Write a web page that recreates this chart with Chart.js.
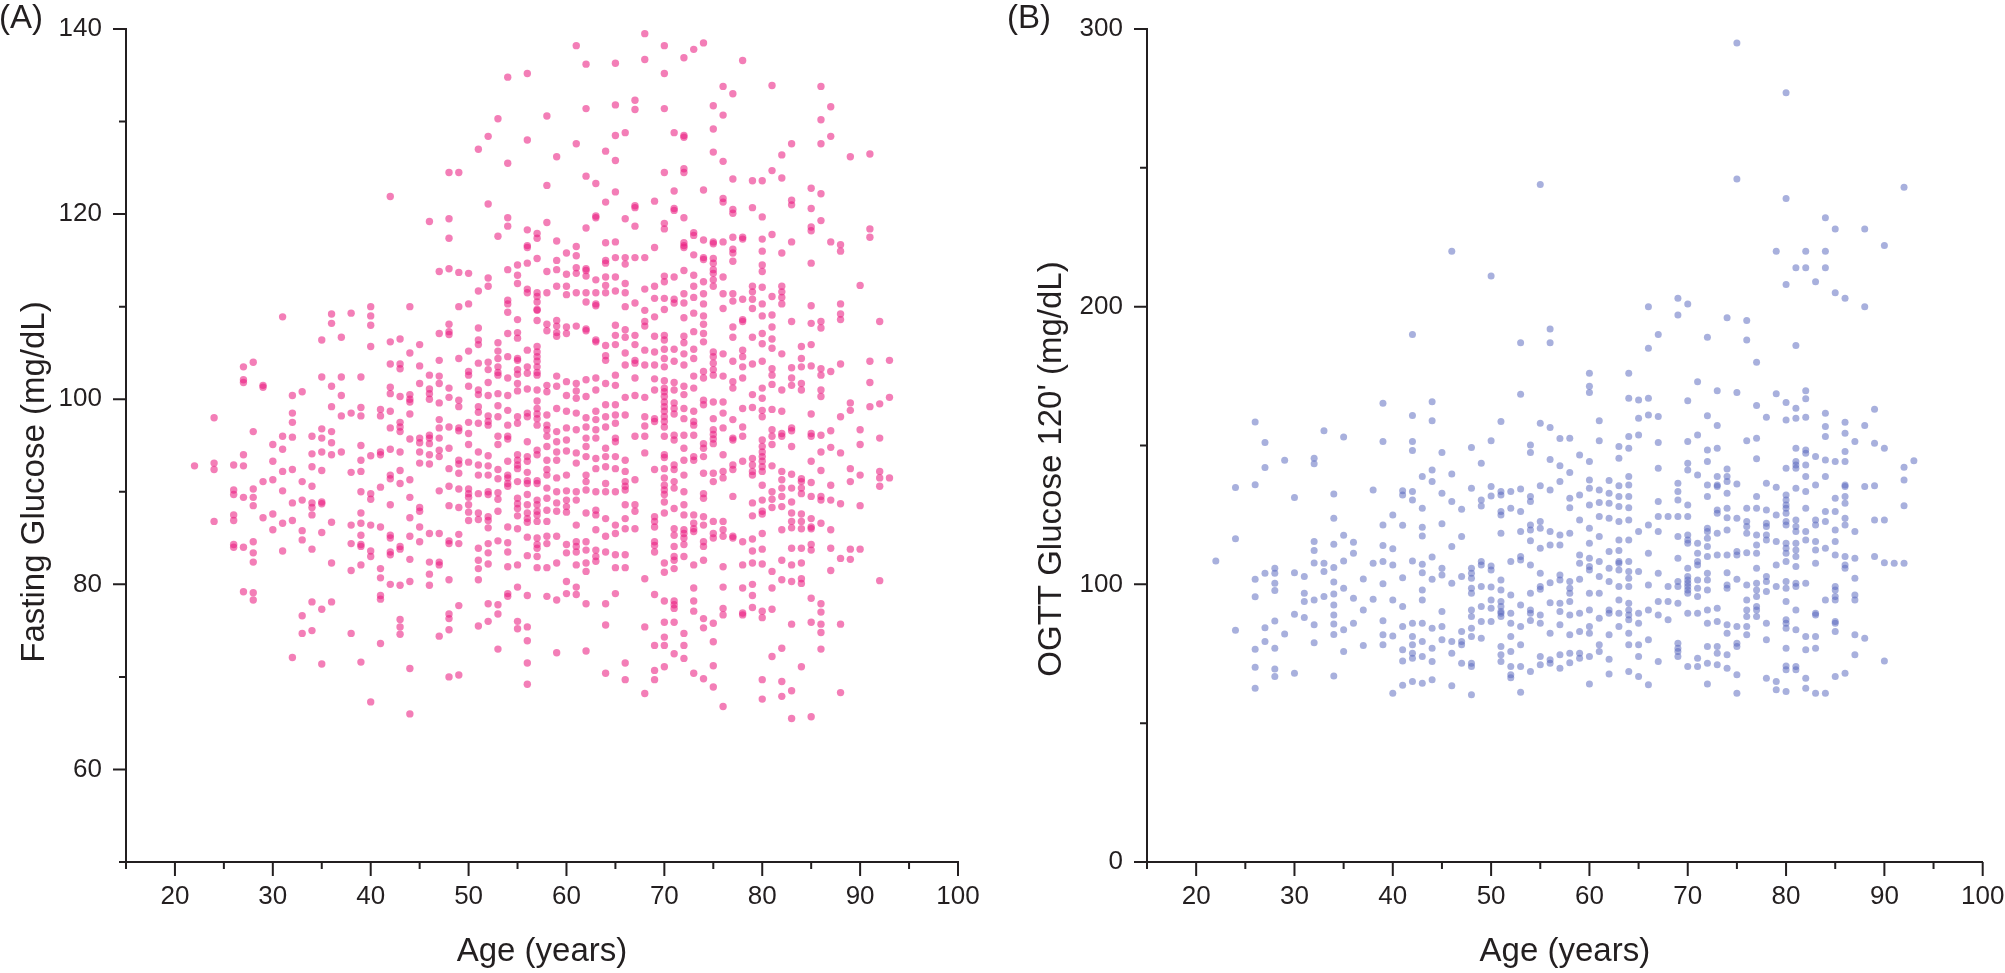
<!DOCTYPE html>
<html><head><meta charset="utf-8">
<script src="https://cdn.jsdelivr.net/npm/chart.js@4.4.0/dist/chart.umd.min.js"></script>
<style>
html,body{margin:0;padding:0;background:#fff;width:2005px;height:973px;overflow:hidden;}
canvas{position:absolute;top:0;}
#ca{left:0;} #cb{left:1000px;}
.panel{position:absolute;top:0;font-family:"Liberation Sans",Arial,sans-serif;font-size:33px;line-height:33px;color:#231f20;}
</style></head><body>
<canvas id="ca" width="1000" height="973"></canvas>
<canvas id="cb" width="1005" height="973"></canvas>
<div class="panel" style="left:-1px">(A)</div>
<div class="panel" style="left:1007px">(B)</div>
<script>
// ---------- Tick labels ----------
const ageTicks = [20,30,40,50,60,70,80,90,100];
const ageMinor = [15,25,35,45,55,65,75,85,95];
const fastingTicks = [60,80,100,120,140];
const fastingMinor = [50,70,90,110,130];
const ogttTicks = [0,100,200,300];
const ogttMinor = [50,150,250];

// ---------- Panel A: Fasting glucose [age, mg/dL] ----------
const fasting20s = [
[22,92.8],[24,98.0],[24,93.1],[24,92.4],[24,86.8],
[26,92.9],[26,90.2],[26,89.7],[26,87.5],[26,86.9],[26,84.3],[26,84.0],
[27,103.5],[27,102.1],[27,101.8],[27,94.0],[27,92.8],[27,89.4],[27,84.0],[27,79.2],
[28,104.0],[28,96.5],[28,90.3],[28,89.4],[28,88.5],[28,84.6],[28,83.4],[28,82.4],[28,79.1],[28,78.3],
[29,101.5],[29,101.3],[29,91.1],[29,87.2]];
const fasting30s = [
[30,95.1],[30,93.3],[30,91.3],[30,87.6],[30,85.9],
[31,108.9],[31,96.0],[31,94.6],[31,92.2],[31,90.1],[31,86.6],[31,83.6],
[32,100.4],[32,98.5],[32,97.5],[32,95.9],[32,92.4],[32,88.8],[32,86.9],[32,72.1],
[33,100.8],[33,91.1],[33,89.1],[33,85.8],[33,84.8],[33,76.6],[33,74.7],
[34,96.0],[34,94.1],[34,92.7],[34,90.6],[34,88.8],[34,88.3],[34,87.5],[34,83.8],[34,78.1],[34,75.0],
[35,106.4],[35,102.4],[35,96.8],[35,95.8],[35,94.3],[35,92.3],[35,88.9],[35,88.7],[35,85.6],[35,77.3],[35,71.4],
[36,109.2],[36,108.2],[36,101.4],[36,99.2],[36,96.5],[36,95.3],[36,94.0],[36,86.7],[36,82.3],[36,78.1],
[37,106.7],[37,102.4],[37,100.4],[37,98.2],[37,94.3],
[38,109.3],[38,98.5],[38,92.1],[38,86.4],[38,84.4],[38,81.5],[38,74.7],
[39,102.4],[39,99.1],[39,98.2],[39,95.0],[39,93.4],[39,92.2],[39,90.0],[39,87.7],[39,86.6],[39,85.3],[39,84.3],[39,84.1],[39,82.1],[39,71.6]];
const fasting40s = [
[40,110.0],[40,109.0],[40,108.0],[40,105.7],[40,93.9],[40,89.8],[40,89.2],[40,86.4],[40,83.6],[40,83.0],[40,67.3],
[41,98.9],[41,98.2],[41,94.3],[41,94.0],[41,90.5],[41,86.2],[41,81.7],[41,80.7],[41,78.8],[41,78.4],[41,73.6],
[42,121.9],[42,106.2],[42,103.8],[42,101.3],[42,100.6],[42,98.7],[42,96.9],[42,94.6],[42,91.8],[42,91.4],[42,88.6],[42,85.3],[42,85.0],[42,83.5],[42,83.2],[42,80.0],
[43,106.5],[43,103.8],[43,103.3],[43,100.3],[43,97.5],[43,97.0],[43,96.5],[43,94.3],[43,92.3],[43,90.9],[43,84.1],[43,83.8],[43,79.9],[43,76.2],[43,75.4],[43,74.6],
[44,110.0],[44,105.0],[44,100.5],[44,100.0],[44,99.7],[44,98.4],[44,95.7],[44,91.3],[44,89.4],[44,87.2],[44,85.2],[44,82.7],[44,80.3],[44,70.9],[44,66.0],
[45,105.9],[45,103.6],[45,101.7],[45,95.8],[45,95.3],[45,94.3],[45,93.1],[45,88.3],[45,87.9],[45,86.2],[45,84.6],
[46,119.2],[46,102.6],[46,101.1],[46,100.6],[46,100.0],[46,96.1],[46,95.8],[46,95.2],[46,94.0],[46,93.0],[46,85.5],[46,82.4],[46,81.1],[46,79.9],
[47,113.8],[47,107.1],[47,104.2],[47,102.5],[47,101.7],[47,99.6],[47,97.8],[47,96.9],[47,95.8],[47,94.5],[47,93.8],[47,90.1],[47,85.5],[47,82.4],[47,82.1],[47,74.4],
[48,124.5],[48,119.5],[48,117.4],[48,114.1],[48,108.1],[48,107.3],[48,107.0],[48,101.2],[48,100.2],[48,97.0],[48,94.7],[48,92.5],[48,90.6],[48,88.5],[48,84.7],[48,84.4],[48,80.5],[48,76.8],[48,76.3],[48,75.1],[48,70.0],
[49,124.5],[49,113.7],[49,110.0],[49,104.4],[49,99.9],[49,99.2],[49,96.9],[49,96.6],[49,93.4],[49,93.0],[49,92.0],[49,90.3],[49,88.3],[49,85.4],[49,84.4],[49,77.7],[49,70.2]];
const fasting50s = [
[50,113.6],[50,110.3],[50,105.2],[50,103.0],[50,102.6],[50,101.4],[50,97.5],[50,96.3],[50,95.1],[50,93.2],[50,90.3],[50,89.8],[50,89.4],[50,88.6],[50,87.8],[50,86.9],
[51,127.0],[51,111.7],[51,107.7],[51,106.4],[51,105.9],[51,103.9],[51,101.0],[51,100.5],[51,99.2],[51,98.6],[51,97.4],[51,94.3],[51,92.9],[51,91.8],[51,89.8],[51,87.7],[51,87.0],[51,83.9],[51,82.6],[51,81.7],[51,80.5],[51,75.5],
[52,128.4],[52,121.1],[52,113.1],[52,112.2],[52,104.0],[52,103.2],[52,101.8],[52,100.4],[52,98.2],[52,97.6],[52,97.2],[52,93.9],[52,92.8],[52,91.8],[52,90.0],[52,89.7],[52,87.3],[52,86.9],[52,86.1],[52,84.4],[52,83.4],[52,82.2],[52,77.9],[52,76.0],
[53,130.3],[53,117.6],[53,106.1],[53,105.2],[53,104.4],[53,103.5],[53,102.9],[53,102.6],[53,100.6],[53,99.3],[53,98.1],[53,96.0],[53,95.1],[53,92.4],[53,91.4],[53,89.9],[53,89.2],[53,87.9],[53,84.7],[53,77.8],[53,76.8],[53,73.0],
[54,134.8],[54,125.5],[54,119.6],[54,118.7],[54,114.0],[54,110.7],[54,110.3],[54,109.4],[54,107.1],[54,104.6],[54,102.3],[54,100.4],[54,98.8],[54,97.2],[54,96.0],[54,95.7],[54,93.3],[54,91.8],[54,91.5],[54,90.9],[54,90.6],[54,86.2],[54,84.5],[54,83.5],[54,81.9],[54,79.0],[54,78.7],
[55,114.5],[55,113.4],[55,112.5],[55,108.6],[55,107.2],[55,106.6],[55,104.4],[55,104.2],[55,103.2],[55,102.7],[55,101.7],[55,100.9],[55,98.1],[55,97.4],[55,94.0],[55,93.4],[55,92.9],[55,92.5],[55,91.1],[55,89.3],[55,88.7],[55,88.2],[55,87.4],[55,86.0],[55,82.1],[55,79.7],[55,76.0],[55,75.2],
[56,135.2],[56,128.0],[56,118.3],[56,116.6],[56,116.4],[56,114.7],[56,111.9],[56,111.5],[56,105.3],[56,103.5],[56,102.8],[56,101.1],[56,98.5],[56,98.1],[56,95.4],[56,93.8],[56,93.3],[56,92.1],[56,91.2],[56,90.9],[56,89.7],[56,88.6],[56,87.7],[56,87.1],[56,86.7],[56,85.1],[56,83.1],[56,78.8],[56,75.4],[56,73.9],[56,71.5],[56,69.2],
[57,117.9],[57,117.4],[57,115.2],[57,111.5],[57,111.1],[57,110.5],[57,109.7],[57,109.6],[57,108.5],[57,105.7],[57,105.1],[57,104.6],[57,104.1],[57,103.5],[57,102.9],[57,102.6],[57,101.0],[57,99.8],[57,99.0],[57,98.4],[57,97.9],[57,97.2],[57,94.5],[57,94.0],[57,91.2],[57,90.9],[57,89.1],[57,88.6],[57,87.9],[57,87.5],[57,86.8],[57,85.0],[57,84.3],[57,83.9],[57,83.0],[57,81.8],
[58,130.6],[58,123.1],[58,119.1],[58,113.8],[58,111.5],[58,108.1],[58,107.4],[58,101.5],[58,100.8],[58,98.3],[58,97.2],[58,96.7],[58,96.0],[58,94.9],[58,93.4],[58,92.4],[58,91.8],[58,90.4],[58,89.3],[58,88.0],[58,86.8],[58,85.2],[58,84.4],[58,81.8],[58,78.7],
[59,126.2],[59,117.1],[59,115.0],[59,114.0],[59,112.2],[59,108.5],[59,107.9],[59,107.2],[59,106.8],[59,102.5],[59,101.4],[59,99.0],[59,96.5],[59,95.4],[59,94.3],[59,93.4],[59,91.5],[59,90.0],[59,88.8],[59,87.9],[59,85.2],[59,82.3],[59,78.3],[59,72.6]];
const fasting60s = [
[60,115.8],[60,113.5],[60,112.2],[60,111.3],[60,107.8],[60,107.1],[60,101.9],[60,100.4],[60,98.7],[60,96.9],[60,95.6],[60,94.4],[60,91.8],[60,90.1],[60,89.1],[60,88.4],[60,87.8],[60,84.3],[60,83.4],[60,80.3],[60,79.0],
[61,138.2],[61,127.6],[61,116.5],[61,115.5],[61,114.2],[61,113.6],[61,111.5],[61,107.9],[61,101.7],[61,100.9],[61,100.1],[61,98.5],[61,96.7],[61,94.2],[61,93.1],[61,90.0],[61,89.1],[61,86.4],[61,84.6],[61,84.1],[61,83.5],[61,82.1],[61,79.7],[61,78.9],
[62,136.2],[62,131.4],[62,124.1],[62,118.5],[62,114.1],[62,113.9],[62,113.3],[62,111.5],[62,110.5],[62,107.6],[62,107.4],[62,102.1],[62,100.3],[62,98.0],[62,97.0],[62,95.8],[62,94.9],[62,93.8],[62,91.8],[62,91.1],[62,90.2],[62,87.7],[62,84.6],[62,83.7],[62,82.3],[62,81.4],[62,77.9],[62,72.8],
[63,123.3],[63,119.8],[63,119.6],[63,112.9],[63,111.5],[63,110.3],[63,110.1],[63,106.4],[63,106.2],[63,102.3],[63,101.0],[63,98.7],[63,97.8],[63,96.7],[63,95.8],[63,93.6],[63,92.5],[63,90.0],[63,88.0],[63,87.5],[63,85.9],[63,83.7],[63,83.0],[63,82.5],
[64,126.8],[64,121.3],[64,116.9],[64,115.0],[64,114.7],[64,113.2],[64,112.3],[64,111.5],[64,105.8],[64,104.7],[64,104.2],[64,101.7],[64,99.4],[64,98.1],[64,97.0],[64,94.7],[64,93.8],[64,92.7],[64,90.9],[64,90.0],[64,87.1],[64,85.2],[64,83.5],[64,77.9],[64,75.6],[64,70.4],
[65,136.3],[65,131.8],[65,128.5],[65,125.8],[65,122.4],[65,117.0],[65,115.3],[65,113.2],[65,111.7],[65,108.0],[65,106.9],[65,105.9],[65,102.6],[65,101.5],[65,99.4],[65,98.3],[65,97.4],[65,95.8],[65,95.4],[65,93.8],[65,92.5],[65,90.0],[65,86.4],[65,85.5],[65,83.2],[65,81.8],[65,79.0],
[66,128.8],[66,119.5],[66,115.3],[66,114.6],[66,112.5],[66,111.5],[66,110.0],[66,107.5],[66,106.7],[66,105.0],[66,103.7],[66,100.2],[66,98.3],[66,93.4],[66,92.2],[66,91.1],[66,90.6],[66,90.2],[66,88.6],[66,87.1],[66,86.0],[66,83.2],[66,81.8],[66,71.5],[66,69.7],
[67,132.3],[67,131.3],[67,120.9],[67,120.7],[67,118.7],[67,115.3],[67,110.4],[67,106.9],[67,105.9],[67,104.2],[67,103.9],[67,102.3],[67,100.4],[67,96.0],[67,91.3],[67,88.6],[67,87.9],[67,86.0],
[68,139.5],[68,136.7],[68,115.3],[68,111.9],[68,109.6],[68,108.4],[68,107.9],[68,105.3],[68,103.7],[68,100.2],[68,98.1],[68,97.1],[68,96.0],[68,94.2],[68,80.6],[68,75.4],[68,68.2],
[69,121.4],[69,116.4],[69,112.2],[69,110.9],[69,108.9],[69,106.8],[69,105.1],[69,103.7],[69,102.2],[69,101.0],[69,97.9],[69,97.6],[69,92.4],[69,87.3],[69,86.8],[69,86.2],[69,84.6],[69,84.2],[69,83.5],[69,78.9],[69,73.4],[69,70.7],[69,69.7]];
const fasting70s = [
[70,138.2],[70,135.2],[70,131.4],[70,124.5],[70,119.0],[70,118.4],[70,113.3],[70,112.7],[70,110.9],[70,109.7],[70,106.9],[70,106.4],[70,105.4],[70,104.4],[70,103.5],[70,102.0],[70,101.2],[70,100.8],[70,100.3],[70,99.7],[70,99.2],[70,98.7],[70,98.1],[70,97.6],[70,97.0],[70,96.0],[70,94.0],[70,93.7],[70,92.5],[70,91.5],[70,90.7],[70,90.2],[70,89.7],[70,88.9],[70,87.7],[70,82.3],[70,81.3],[70,78.2],[70,75.9],[70,74.3],[70,73.4],[70,71.1],
[71,128.8],[71,122.5],[71,120.6],[71,120.4],[71,113.2],[71,110.8],[71,110.4],[71,105.4],[71,104.1],[71,101.8],[71,101.0],[71,99.6],[71,99.0],[71,98.4],[71,96.1],[71,95.6],[71,92.9],[71,92.4],[71,91.1],[71,90.4],[71,88.2],[71,86.0],[71,85.3],[71,84.1],[71,83.0],[71,82.6],[71,81.7],[71,78.2],[71,77.8],[71,77.4],[71,75.9],[71,72.5],
[72,136.9],[72,128.5],[72,128.3],[72,124.9],[72,124.5],[72,119.6],[72,116.9],[72,116.6],[72,116.4],[72,113.9],[72,111.4],[72,110.4],[72,108.8],[72,106.8],[72,106.1],[72,104.9],[72,103.7],[72,101.4],[72,100.5],[72,99.0],[72,97.9],[72,96.1],[72,94.7],[72,93.4],[72,91.8],[72,90.0],[72,88.6],[72,87.5],[72,85.9],[72,85.5],[72,85.0],[72,84.3],[72,83.0],[72,74.7],[72,73.4],[72,72.0],
[73,137.8],[73,118.0],[73,117.7],[73,115.6],[73,113.4],[73,112.2],[73,111.0],[73,109.3],[73,107.3],[73,105.4],[73,104.4],[73,102.5],[73,101.2],[73,98.7],[73,97.6],[73,97.2],[73,96.1],[73,93.8],[73,93.4],[73,87.5],[73,86.6],[73,86.0],[73,85.7],[73,82.1],[73,79.6],[73,78.2],[73,77.1],[73,70.4],
[74,138.5],[74,122.6],[74,117.2],[74,115.3],[74,115.1],[74,112.7],[74,111.4],[74,110.3],[74,109.0],[74,108.1],[74,107.1],[74,106.2],[74,103.0],[74,102.3],[74,99.9],[74,99.4],[74,95.2],[74,94.7],[74,93.8],[74,92.0],[74,89.8],[74,89.3],[74,87.3],[74,86.4],[74,84.6],[74,84.1],[74,82.6],[74,76.3],[74,75.3],[74,69.8],
[75,131.7],[75,129.2],[75,126.7],[75,117.0],[75,116.8],[75,115.2],[75,114.7],[75,114.0],[75,113.6],[75,112.9],[75,112.2],[75,105.1],[75,104.6],[75,103.9],[75,103.2],[75,102.6],[75,99.7],[75,97.9],[75,96.7],[75,96.2],[75,95.7],[75,95.2],[75,92.0],[75,91.1],[75,86.8],[75,85.5],[75,85.0],[75,75.8],[75,73.8],[75,71.2],[75,68.9],
[76,133.8],[76,130.7],[76,125.7],[76,121.7],[76,121.3],[76,117.0],[76,113.2],[76,111.4],[76,109.8],[76,104.9],[76,102.5],[76,99.7],[76,98.5],[76,96.9],[76,94.0],[76,92.2],[76,91.5],[76,86.8],[76,85.9],[76,85.2],[76,81.9],[76,79.7],[76,77.4],[76,76.7],[76,66.8],
[77,133.0],[77,123.8],[77,120.5],[77,120.1],[77,117.5],[77,116.2],[77,115.8],[77,114.9],[77,111.4],[77,110.6],[77,107.8],[77,106.7],[77,104.1],[77,101.9],[77,101.2],[77,97.8],[77,95.8],[77,95.6],[77,92.9],[77,92.4],[77,89.5],[77,85.2],[77,85.0],
[78,136.6],[78,117.5],[78,117.3],[78,110.8],[78,108.6],[78,108.4],[78,105.3],[78,104.6],[78,103.5],[78,102.3],[78,99.0],[78,97.0],[78,96.0],[78,93.3],[78,84.6],[78,82.1],[78,79.6],[78,76.9],[78,76.7],
[79,123.6],[79,120.7],[79,112.2],[79,111.6],[79,110.8],[79,109.8],[79,106.7],[79,103.8],[79,100.5],[79,99.1],[79,93.6],[79,92.9],[79,92.2],[79,91.8],[79,88.8],[79,87.4],[79,84.9],[79,83.6],[79,82.3],[79,80.0],[79,78.8],[79,77.5]];
const fasting80s = [
[80,123.6],[80,119.7],[80,117.3],[80,116.0],[80,114.5],[80,113.8],[80,112.1],[80,110.3],[80,109.0],[80,107.1],[80,106.0],[80,104.1],[80,101.2],[80,100.1],[80,98.8],[80,98.1],[80,95.6],[80,94.9],[80,94.3],[80,93.8],[80,93.3],[80,92.7],[80,92.2],[80,90.7],[80,89.1],[80,87.9],[80,87.6],[80,85.5],[80,83.8],[80,82.2],[80,77.1],[80,76.4],[80,69.7],[80,67.6],
[81,133.9],[81,124.7],[81,117.8],[81,111.1],[81,109.1],[81,107.8],[81,106.5],[81,105.5],[81,103.3],[81,102.6],[81,101.6],[81,98.9],[81,96.7],[81,96.0],[81,95.1],[81,92.8],[81,90.0],[81,89.2],[81,88.3],[81,81.4],[81,79.6],[81,77.3],[81,72.2],
[82,126.4],[82,123.9],[82,115.8],[82,112.2],[82,111.6],[82,111.0],[82,110.3],[82,104.9],[82,101.0],[82,98.7],[82,96.3],[82,96.0],[82,92.2],[82,91.3],[82,90.4],[82,89.5],[82,88.4],[82,85.9],[82,82.6],[82,80.5],[82,73.1],[82,69.5],[82,67.9],
[83,127.6],[83,121.5],[83,121.0],[83,117.0],[83,108.4],[83,103.4],[83,102.3],[83,101.5],[83,96.9],[83,96.6],[83,94.9],[83,91.9],[83,90.4],[83,88.9],[83,87.7],[83,86.8],[83,86.1],[83,83.9],[83,82.1],[83,80.3],[83,75.7],[83,68.5],[83,65.5],
[84,105.7],[84,104.4],[84,103.5],[84,101.7],[84,101.0],[84,91.4],[84,91.1],[84,90.4],[84,89.8],[84,87.6],[84,86.8],[84,86.0],[84,83.9],[84,82.3],[84,80.6],[84,80.1],[84,71.1],
[85,122.8],[85,120.6],[85,118.6],[85,118.2],[85,114.7],[85,110.1],[85,108.2],[85,105.9],[85,103.6],[85,98.4],[85,96.3],[85,96.0],[85,93.3],[85,91.0],[85,89.5],[85,87.1],[85,86.2],[85,86.0],[85,84.3],[85,83.7],[85,78.5],[85,75.9],[85,65.7],
[86,133.8],[86,130.2],[86,127.6],[86,122.2],[86,119.3],[86,108.4],[86,107.7],[86,103.3],[86,102.6],[86,101.0],[86,100.3],[86,96.1],[86,94.3],[86,92.3],[86,89.5],[86,89.1],[86,86.6],[86,77.9],[86,77.0],[86,75.7],[86,74.8],[86,73.0],
[87,131.6],[87,128.4],[87,117.0],[87,103.0],[87,96.6],[87,94.8],[87,90.7],[87,89.1],[87,85.9],[87,83.9],[87,81.5],
[88,116.7],[88,116.0],[88,110.3],[88,109.2],[88,108.6],[88,103.8],[88,98.1],[88,94.2],[88,88.7],[88,82.8],[88,75.7],[88,68.3],
[89,126.2],[89,99.6],[89,98.8],[89,92.5],[89,91.1],[89,83.8],[89,82.7]];
const fasting90s = [
[90,112.3],[90,96.7],[90,95.1],[90,91.8],[90,88.5],[90,83.8],
[91,126.5],[91,118.4],[91,117.5],[91,104.1],[91,101.8],[91,99.2],
[92,108.4],[92,99.5],[92,95.8],[92,92.2],[92,91.5],[92,90.6],[92,80.4],
[93,104.2],[93,100.2],[93,91.5]];

// ---------- Panel B: OGTT 120' glucose [age, mg/dL] ----------
const ogtt20s = [
[22,108.4],[24,134.9],[24,116.4],[24,83.5],
[26,158.5],[26,135.9],[26,101.8],[26,95.5],[26,76.6],[26,70.1],[26,62.6],
[27,151.1],[27,142.1],[27,104.0],[27,84.4],[27,79.4],
[28,105.8],[28,104.0],[28,100.4],[28,97.8],[28,86.8],[28,77.0],[28,69.5],[28,66.8],
[29,144.7],[29,82.1]];
const ogtt30s = [
[30,131.3],[30,104.2],[30,89.2],[30,68.0],
[31,102.8],[31,96.8],[31,93.8],[31,88.1],
[32,145.4],[32,143.4],[32,115.4],[32,112.2],[32,107.7],[32,94.4],[32,85.4],[32,79.0],
[33,155.3],[33,107.6],[33,104.6],[33,95.6],
[34,132.5],[34,123.8],[34,114.4],[34,106.1],[34,100.8],[34,96.5],[34,92.6],[34,89.0],[34,85.7],[34,81.9],[34,67.0],
[35,153.1],[35,117.7],[35,108.4],[35,98.6],[35,83.6],[35,75.8],
[36,115.2],[36,111.2],[36,95.0],[36,86.0],
[37,101.9],[37,90.8],[37,78.0],
[38,134.0],[38,107.6],[38,94.6],
[39,165.2],[39,151.4],[39,121.4],[39,114.0],[39,108.2],[39,100.2],[39,86.9],[39,81.8],[39,78.2]];
const ogtt40s = [
[40,125.0],[40,112.8],[40,107.0],[40,94.4],[40,81.4],[40,60.8],
[41,133.7],[41,132.2],[41,121.3],[41,102.4],[41,92.0],[41,84.8],[41,76.4],[41,72.4],[41,63.7],
[42,190.0],[42,160.8],[42,151.4],[42,148.2],[42,133.4],[42,130.4],[42,108.4],[42,86.0],[42,81.2],[42,78.2],[42,75.2],[42,73.4],[42,65.0],
[43,138.8],[43,127.4],[43,120.6],[43,117.4],[43,107.2],[43,104.2],[43,98.0],[43,94.4],[43,86.0],[43,79.4],[43,74.0],[43,64.4],
[44,165.8],[44,158.9],[44,141.2],[44,137.0],[44,109.8],[44,101.8],[44,84.2],[44,77.0],[44,72.2],[44,65.6],
[45,147.5],[45,132.8],[45,121.8],[45,105.8],[45,103.4],[45,90.2],[45,84.8],[45,80.0],
[46,220.0],[46,139.7],[46,129.8],[46,113.6],[46,100.4],[46,79.4],[46,75.2],[46,63.5],
[47,127.0],[47,117.2],[47,102.8],[47,83.0],[47,79.4],[47,78.2],[47,71.6],
[48,149.3],[48,134.6],[48,105.8],[48,104.0],[48,102.2],[48,98.6],[48,96.8],[48,90.8],[48,88.4],[48,84.2],[48,81.2],[48,71.6],[48,70.4],[48,60.2],
[49,143.6],[49,130.4],[49,128.2],[49,108.2],[49,107.0],[49,99.2],[49,92.0],[49,86.6],[49,80.6]];
const ogtt50s = [
[50,211.0],[50,151.7],[50,135.2],[50,131.8],[50,106.6],[50,105.2],[50,99.0],[50,94.4],[50,91.4],[50,86.6],
[51,158.6],[51,133.4],[51,132.2],[51,126.2],[51,125.0],[51,118.4],[51,101.6],[51,98.0],[51,93.8],[51,92.0],[51,90.2],[51,89.6],[51,88.4],[51,77.6],[51,74.6],[51,72.2],
[52,133.4],[52,127.4],[52,108.2],[52,96.2],[52,89.6],[52,86.0],[52,81.2],[52,75.8],[52,70.4],[52,67.4],[52,66.4],
[53,187.0],[53,168.5],[53,134.3],[53,126.2],[53,119.0],[53,110.0],[53,108.8],[53,92.6],[53,84.8],[53,78.2],[53,70.4],[53,61.1],
[54,150.2],[54,147.5],[54,131.6],[54,129.8],[54,121.4],[54,119.6],[54,115.7],[54,107.0],[54,96.8],[54,90.8],[54,89.6],[54,87.0],[54,68.6],
[55,244.0],[55,158.0],[55,135.5],[55,122.6],[55,120.2],[55,113.0],[55,104.0],[55,99.2],[55,98.2],[55,89.0],[55,86.0],[55,74.0],[55,71.0],
[56,192.0],[56,187.0],[56,156.5],[56,145.0],[56,134.0],[56,119.0],[56,114.2],[56,100.6],[56,93.4],[56,82.4],[56,72.8],[56,71.6],
[57,152.5],[57,142.7],[57,137.0],[57,117.8],[57,114.2],[57,103.4],[57,101.6],[57,93.2],[57,90.2],[57,85.4],[57,74.6],[57,69.8],
[58,152.6],[58,140.3],[58,131.0],[58,127.6],[58,118.4],[58,101.0],[58,98.6],[58,96.8],[58,93.8],[58,89.0],[58,81.8],[58,75.2],[58,71.8],
[59,146.6],[59,132.2],[59,123.2],[59,110.6],[59,107.6],[59,101.8],[59,89.6],[59,83.0],[59,75.2],[59,73.4]];
const ogtt60s = [
[60,176.0],[60,171.3],[60,169.1],[60,144.2],[60,137.6],[60,134.6],[60,128.6],[60,120.2],[60,114.8],[60,109.4],[60,106.4],[60,105.2],[60,96.8],[60,90.8],[60,84.8],[60,82.4],[60,74.0],[60,64.1],
[61,158.9],[61,151.7],[61,134.0],[61,129.5],[61,124.4],[61,117.2],[61,108.2],[61,102.8],[61,96.8],[61,87.8],[61,78.2],[61,75.8],
[62,137.4],[62,132.8],[62,129.2],[62,123.8],[62,111.8],[62,105.8],[62,101.0],[62,90.8],[62,89.6],[62,81.8],[62,73.0],[62,67.7],
[63,149.6],[63,145.4],[63,135.5],[63,131.6],[63,128.0],[63,122.6],[63,116.0],[63,112.2],[63,108.2],[63,107.6],[63,105.2],[63,99.2],[63,94.4],[63,89.6],[63,84.8],
[64,176.0],[64,167.0],[64,153.2],[64,149.0],[64,138.8],[64,135.8],[64,131.6],[64,127.6],[64,123.2],[64,116.0],[64,108.2],[64,104.6],[64,102.2],[64,99.2],[64,93.2],[64,90.8],[64,89.0],[64,87.2],[64,82.4],[64,78.2],[64,68.6],
[65,166.4],[65,159.8],[65,153.8],[65,119.0],[65,104.6],[65,89.6],[65,86.0],[65,78.2],[65,74.0],[65,66.8],
[66,200.0],[66,185.0],[66,167.0],[66,161.0],[66,121.4],[66,111.2],[66,99.8],[66,90.8],[66,80.0],[66,63.8],
[67,190.0],[67,160.4],[67,151.1],[67,141.8],[67,129.8],[67,124.4],[67,119.0],[67,104.0],[67,93.8],[67,89.0],[67,72.2],
[68,124.4],[68,99.2],[68,93.8],[68,87.2],
[69,203.0],[69,197.0],[69,136.4],[69,133.4],[69,130.4],[69,124.4],[69,117.2],[69,109.4],[69,101.0],[69,99.2],[69,93.2],[69,78.8],[69,77.0],[69,75.8],[69,74.0]];
const ogtt70s = [
[70,201.0],[70,166.1],[70,151.4],[70,143.6],[70,141.2],[70,128.6],[70,124.4],[70,117.8],[70,116.0],[70,114.8],[70,105.8],[70,102.8],[70,101.6],[70,100.4],[70,99.2],[70,98.0],[70,96.8],[70,89.6],[70,70.4],
[71,173.0],[71,153.8],[71,139.4],[71,114.8],[71,111.2],[71,108.2],[71,107.0],[71,101.6],[71,98.6],[71,95.6],[71,89.6],[71,73.4],[71,70.4],
[72,189.0],[72,160.7],[72,148.4],[72,144.2],[72,135.8],[72,131.6],[72,120.2],[72,119.0],[72,116.6],[72,113.6],[72,110.0],[72,104.0],[72,101.6],[72,98.0],[72,90.8],[72,86.0],[72,77.6],[72,71.6],[72,64.1],
[73,169.7],[73,157.2],[73,149.0],[73,138.8],[73,135.8],[73,135.2],[73,126.8],[73,125.6],[73,118.4],[73,110.6],[73,91.4],[73,86.6],[73,77.6],[73,75.2],[73,71.0],
[74,196.0],[74,141.5],[74,138.8],[74,137.0],[74,132.8],[74,127.4],[74,124.0],[74,119.6],[74,110.6],[74,104.2],[74,99.8],[74,98.6],[74,85.4],[74,82.4],[74,74.6],[74,69.8],
[75,295.0],[75,246.0],[75,169.1],[75,136.1],[75,123.8],[75,111.8],[75,110.6],[75,101.8],[75,84.8],[75,78.8],[75,77.6],[75,67.4],[75,60.8],
[76,195.0],[76,188.0],[76,151.7],[76,127.4],[76,122.6],[76,120.8],[76,118.4],[76,111.4],[76,99.8],[76,94.4],[76,90.8],[76,88.4],[76,84.8],[76,81.8],
[77,180.0],[77,164.4],[77,152.6],[77,145.2],[77,131.6],[77,127.4],[77,117.8],[77,114.2],[77,111.2],[77,105.8],[77,100.4],[77,98.0],[77,95.6],[77,92.0],[77,90.8],[77,88.4],
[78,160.2],[78,136.4],[78,126.8],[78,122.0],[78,120.8],[78,117.8],[78,116.0],[78,102.8],[78,101.0],[78,97.4],[78,86.0],[78,80.0],[78,66.2],
[79,220.0],[79,168.6],[79,135.0],[79,125.0],[79,115.4],[79,107.0],[79,99.2],[79,65.0],[79,62.0]];
const ogtt80s = [
[80,277.0],[80,239.0],[80,208.0],[80,165.5],[80,159.2],[80,141.8],[80,132.2],[80,130.4],[80,128.6],[80,127.4],[80,125.6],[80,122.6],[80,121.4],[80,114.8],[80,113.0],[80,111.2],[80,108.2],[80,101.0],[80,98.6],[80,93.8],[80,87.2],[80,86.0],[80,84.2],[80,77.0],[80,70.6],[80,69.2],[80,61.4],
[81,214.0],[81,186.0],[81,163.4],[81,159.8],[81,149.0],[81,144.2],[81,143.0],[81,141.8],[81,134.6],[81,123.2],[81,120.8],[81,119.0],[81,114.8],[81,112.4],[81,110.0],[81,106.4],[81,100.4],[81,99.2],[81,90.8],[81,83.6],[81,70.4],[81,69.2],
[82,220.0],[82,214.0],[82,169.7],[82,166.8],[82,160.2],[82,148.4],[82,147.2],[82,143.0],[82,138.8],[82,133.4],[82,127.4],[82,119.0],[82,116.0],[82,100.4],[82,81.2],[82,76.4],[82,66.2],[82,62.6],
[83,209.0],[83,146.0],[83,135.8],[83,123.2],[83,121.4],[83,115.4],[83,112.4],[83,107.6],[83,89.6],[83,89.0],[83,81.2],[83,77.0],[83,60.8],
[84,232.0],[84,220.0],[84,214.0],[84,161.6],[84,156.8],[84,153.2],[84,144.8],[84,138.8],[84,126.2],[84,122.6],[84,113.0],[84,94.4],[84,60.8],
[85,228.0],[85,205.0],[85,144.2],[85,131.0],[85,126.2],[85,119.6],[85,115.4],[85,110.6],[85,99.2],[85,98.0],[85,95.6],[85,94.4],[85,86.6],[85,86.0],[85,83.0],[85,66.8],
[86,203.0],[86,158.4],[86,154.4],[86,147.8],[86,144.2],[86,135.8],[86,135.2],[86,131.6],[86,129.2],[86,123.8],[86,121.4],[86,110.0],[86,107.0],[86,105.8],[86,68.0],
[87,151.4],[87,119.0],[87,109.4],[87,102.2],[87,96.2],[87,94.4],[87,81.8],[87,74.6],
[88,228.0],[88,200.0],[88,157.2],[88,135.2],[88,80.6],
[89,163.1],[89,150.8],[89,135.5],[89,123.2],[89,110.0]];
const ogtt90s = [
[90,222.0],[90,149.0],[90,123.2],[90,107.8],[90,72.4],
[91,107.6],
[92,243.0],[92,142.2],[92,137.6],[92,128.3],[92,107.6],
[93,144.5]];

const fastingPoints = [].concat(fasting20s, fasting30s, fasting40s, fasting50s, fasting60s, fasting70s, fasting80s, fasting90s);
const ogttPoints = [].concat(ogtt20s, ogtt30s, ogtt40s, ogtt50s, ogtt60s, ogtt70s, ogtt80s, ogtt90s);

// ---------- Styling ----------
const AX = '#231f20';
const FONT = '"Liberation Sans", Arial, Helvetica, sans-serif';

const axisTicks = {
  id: 'axisTicks',
  afterDraw(chart, args, o) {
    const {ctx} = chart; const x = chart.scales.x, y = chart.scales.y;
    const bottom = chart.chartArea.bottom, left = chart.chartArea.left;
    ctx.save(); ctx.strokeStyle = AX; ctx.lineWidth = 2; ctx.beginPath();
    o.xMajor.forEach(v => { const p = x.getPixelForValue(v); ctx.moveTo(p, bottom); ctx.lineTo(p, bottom + 14); });
    o.xMinor.forEach(v => { const p = x.getPixelForValue(v); ctx.moveTo(p, bottom); ctx.lineTo(p, bottom + 7); });
    o.yMajor.forEach(v => { const p = y.getPixelForValue(v); ctx.moveTo(left, p); ctx.lineTo(left - 13, p); });
    o.yMinor.forEach(v => { const p = y.getPixelForValue(v); ctx.moveTo(left, p); ctx.lineTo(left - 7, p); });
    ctx.stroke();
    // vertical axis title
    ctx.translate(o.titleX, o.titleY); ctx.rotate(-Math.PI / 2);
    ctx.font = '33px ' + FONT; ctx.fillStyle = AX; ctx.textAlign = 'center'; ctx.textBaseline = 'middle';
    ctx.fillText(o.title, 0, 0);
    ctx.restore();
  }
};

function makeChart(id, pts, color, radius, yMin, yMax, yTicks, yMinorTicks, yTitle, yAxisWidth, padRight, titleX, titleY) {
  return new Chart(document.getElementById(id), {
    type: 'scatter',
    data: { datasets: [{
      data: pts.map(p => ({x: p[0], y: p[1]})),
      backgroundColor: color, borderColor: 'rgba(0,0,0,0)', borderWidth: 0,
      pointRadius: radius, pointHoverRadius: radius, pointBorderWidth: 0
    }]},
    options: {
      responsive: false, animation: false, events: [],
      layout: { padding: { top: 29, right: padRight, bottom: 0, left: 0 } },
      plugins: { legend: {display: false}, tooltip: {enabled: false},
        axisTicks: { xMajor: ageTicks, xMinor: ageMinor, yMajor: yTicks, yMinor: yMinorTicks, title: yTitle, titleX: titleX, titleY: titleY } },
      scales: {
        x: { type: 'linear', min: 15, max: 100,
          afterBuildTicks: s => { s.ticks = ageTicks.map(v => ({value: v})); },
          afterFit: s => { s.height = 111; },
          grid: { display: false, drawTicks: true, tickLength: 19 },
          border: { display: true, color: AX, width: 2 },
          ticks: { color: AX, padding: 0, maxRotation: 0, autoSkip: false, font: {family: FONT, size: 26} },
          title: { display: true, text: 'Age (years)', color: AX, font: {family: FONT, size: 33}, padding: {top: 0, bottom: 1} } },
        y: { type: 'linear', min: yMin, max: yMax,
          afterBuildTicks: s => { s.ticks = yTicks.map(v => ({value: v})); },
          afterFit: s => { s.width = yAxisWidth; },
          grid: { display: false, drawTicks: true, tickLength: 24 },
          border: { display: true, color: AX, width: 2 },
          ticks: { color: AX, padding: 0, autoSkip: false, font: {family: FONT, size: 26} },
          title: { display: false } }
      }
    },
    plugins: [axisTicks]
  });
}

makeChart('ca', fastingPoints, 'rgba(234,28,128,0.57)', 3.7, 50, 140, fastingTicks, fastingMinor, 'Fasting Glucose (mg/dL)', 126, 42, 35, 482);
makeChart('cb', ogttPoints, 'rgba(88,104,190,0.52)', 3.5, 0, 300, ogttTicks, ogttMinor, "OGTT Glucose 120' (mg/dL)", 147, 22.3, 52, 469);
</script>
</body></html>
